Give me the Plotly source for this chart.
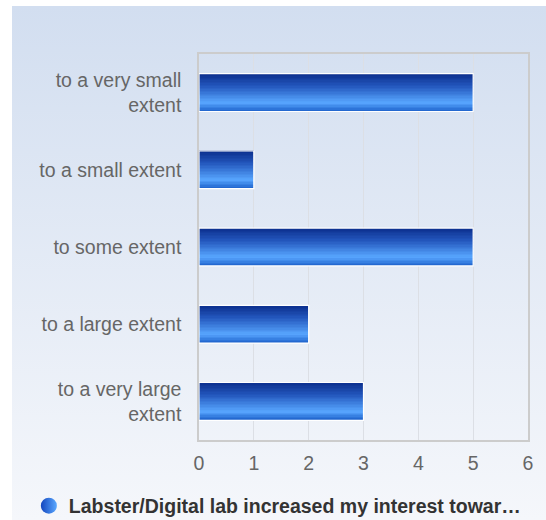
import base64
import plotly.graph_objects as go

# Survey responses
categories = [
    "to a very small<br>extent",
    "to a small extent",
    "to some extent",
    "to a large extent",
    "to a very large<br>extent",
]
counts = [5, 1, 5, 2, 3]
series_name = "Labster/Digital lab increased my interest towar…"
x_ticks = [0, 1, 2, 3, 4, 5, 6]

W, H = 546, 520
ML, MR, MT, MB = 199, 18, 54, 80

# Vertical colour ramp used across the thickness of every bar (top -> bottom)
ramp = [
    (0.00, (10, 44, 138)),
    (0.35, (36, 88, 190)),
    (0.78, (88, 166, 255)),
    (1.00, (30, 98, 204)),
]


def ramp_color(t):
    for (t0, c0), (t1, c1) in zip(ramp[:-1], ramp[1:]):
        if t0 <= t <= t1:
            f = (t - t0) / (t1 - t0) if t1 > t0 else 0
            return "rgb(%d,%d,%d)" % tuple(round(a + (b - a) * f) for a, b in zip(c0, c1))
    return "rgb(%d,%d,%d)" % ramp[-1][1]


bar_w = 0.49
n_slices = 26
fig = go.Figure()
for i in range(n_slices):
    fig.add_trace(go.Bar(
        y=categories, x=counts, orientation="h",
        width=bar_w / n_slices, offset=-bar_w / 2 + i * bar_w / n_slices,
        marker=dict(color=ramp_color((i + 0.5) / n_slices), line=dict(width=0)),
        showlegend=False, hoverinfo="skip",
    ))
# white outline around each bar
fig.add_trace(go.Bar(
    y=categories, x=counts, orientation="h", width=bar_w, offset=-bar_w / 2,
    marker=dict(color="rgba(0,0,0,0)", line=dict(color="white", width=1.2)),
    showlegend=False, hoverinfo="skip",
))
# legend entry
fig.add_trace(go.Scatter(
    x=[None], y=[None], mode="markers", name=series_name,
    marker=dict(symbol="circle", size=22, color="rgb(20,70,190)",
                gradient=dict(type="horizontal", color="rgb(90,168,255)"),
                line=dict(width=0)),
))

# soft blue page background
svg = (
    '<svg xmlns="http://www.w3.org/2000/svg" width="100" height="100" preserveAspectRatio="none">'
    '<defs><linearGradient id="g" x1="0" y1="0" x2="0" y2="1">'
    '<stop offset="0" stop-color="#d2def0"/><stop offset="1" stop-color="#f5f7fb"/>'
    '</linearGradient></defs><rect width="100" height="100" fill="url(#g)"/></svg>'
)
src = "data:image/svg+xml;base64," + base64.b64encode(svg.encode()).decode()
pw, ph = W - ML - MR, H - MT - MB
bg_x0, bg_y0 = 12, 6
fig.add_layout_image(dict(
    source=src, xref="paper", yref="paper",
    x=(bg_x0 - ML) / pw, y=1 + (MT - bg_y0) / ph,
    sizex=(W - bg_x0) / pw, sizey=(H - bg_y0) / ph,
    xanchor="left", yanchor="top", sizing="stretch", layer="below",
))

font = "Liberation Sans, Arial, sans-serif"
fig.update_layout(
    width=W, height=H,
    margin=dict(l=ML, r=MR, t=MT, b=MB),
    paper_bgcolor="white", plot_bgcolor="rgba(0,0,0,0)",
    barmode="overlay",
    font=dict(family=font, color="#666666", size=19.5),
    xaxis=dict(
        range=[0, 6], tickvals=x_ticks, showgrid=True, gridcolor="#dcdfe5", gridwidth=1,
        zeroline=False, showline=True, mirror=True, linecolor="#cccccc", linewidth=1.5,
        ticks="", ticklabelstandoff=5, tickfont=dict(size=19.5, color="#666666"),
        fixedrange=True,
    ),
    yaxis=dict(
        autorange="reversed", showgrid=False, zeroline=False,
        showline=True, mirror=True, linecolor="#cccccc", linewidth=1.5,
        ticks="", ticklabelstandoff=12, tickfont=dict(size=19.5, color="#666666"),
        fixedrange=True,
    ),
    showlegend=True,
    legend=dict(
        orientation="h", xref="container", yref="container",
        x=0.508, y=0.027, xanchor="center", yanchor="middle",
        bgcolor="rgba(0,0,0,0)",
        font=dict(family=font, size=19.5, color="#333333", weight="bold"),
        itemwidth=30,
    ),
)

fig.write_html("out.html")
